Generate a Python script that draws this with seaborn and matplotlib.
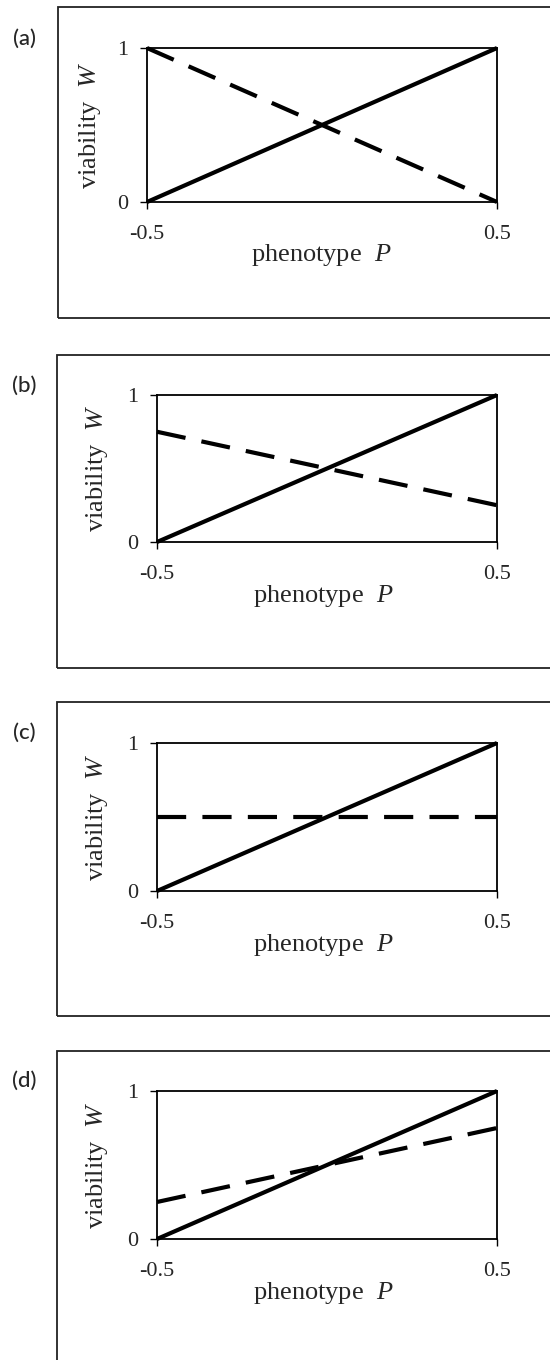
import matplotlib
matplotlib.use("Agg")
import matplotlib.pyplot as plt
from matplotlib.patches import Rectangle
import seaborn as sns
import pandas as pd

# ---- data ----
panel_labels = ["(a)", "(b)", "(c)", "(d)"]
phenotype = [-0.5, 0.5]
solid_W = [0.0, 1.0]
dashed_W_a = [1.0, 0.0]
dashed_W_b = [0.75, 0.25]
dashed_W_c = [0.5, 0.5]
dashed_W_d = [0.25, 0.75]
dashed_all = [dashed_W_a, dashed_W_b, dashed_W_c, dashed_W_d]
x_ticks = [-0.5, 0.5]
x_ticklabels = ["-0.5", "0.5"]
y_ticks = [0, 1]
y_ticklabels = ["0", "1"]
xlabel = "phenotype  $P$"
ylabel = "viability  $W$"

sns.set_style("white")
plt.rcParams["font.family"] = ["Liberation Serif", "DejaVu Serif"]
plt.rcParams["mathtext.fontset"] = "custom"
plt.rcParams["mathtext.rm"] = "Liberation Serif"
plt.rcParams["mathtext.it"] = "Liberation Serif:italic"

W, H = 550, 1360
fig = plt.figure(figsize=(W / 100, H / 100), dpi=100)
fig.patch.set_facecolor("white")

# layout in pixels: axes (left, right, top, bottom), box (left, top, bottom), label center (x, y)
axes_px = [(147, 497, 48, 202), (157, 497, 395, 542), (157, 497, 743, 891), (157, 497, 1091, 1239)]
box_px = [(58, 7, 318), (57, 355, 668), (57, 702, 1016), (57, 1051, 1420)]
lab_px = [(25, 39), (24, 386), (24, 733), (24, 1081)]
xlab_coords = [(0.497, -0.26), (0.49, -0.279), (0.49, -0.277), (0.49, -0.277)]
ylab_x_px = [103, 110, 110, 110]

for i in range(4):
    l, r, t, b = axes_px[i]
    bl, bt, bb = box_px[i]
    fig.add_artist(Rectangle((bl / W, 1 - bb / H), (W + 20 - bl) / W, (bb - bt) / H,
                             transform=fig.transFigure, fill=False, lw=1.3,
                             ec="#222222"))
    fig.text(lab_px[i][0] / W, 1 - lab_px[i][1] / H, panel_labels[i],
             family=["Lato", "DejaVu Sans"], fontsize=16, fontweight="medium",
             ha="center", va="center")

    ax = fig.add_axes([l / W, 1 - b / H, (r - l) / W, (b - t) / H])
    df = pd.DataFrame({"P": phenotype, "solid": solid_W, "dashed": dashed_all[i]})
    sns.lineplot(data=df, x="P", y="solid", ax=ax, color="black", lw=3.0,
                 errorbar=None, clip_on=False, solid_capstyle="butt")
    sns.lineplot(data=df, x="P", y="dashed", ax=ax, color="black", lw=3.0,
                 errorbar=None, clip_on=False, linestyle=(0, (7.0, 3.9)),
                 dash_capstyle="butt")
    ax.set_xlim(-0.5, 0.5)
    ax.set_ylim(0, 1)
    ax.set_xticks(x_ticks)
    ax.set_xticklabels(x_ticklabels)
    ax.set_yticks(y_ticks)
    ax.set_yticklabels(y_ticklabels)
    ax.tick_params(axis="x", direction="out", length=5, width=1, pad=11.5,
                   labelsize=16, bottom=True, color="black")
    ax.tick_params(axis="y", direction="out", length=5, width=1, pad=8.6,
                   labelsize=16, left=True, color="black")
    for s in ax.spines.values():
        s.set_visible(True)
        s.set_color("black")
        s.set_linewidth(1.3)
    ax.set_xlabel(xlabel, fontsize=19)
    ax.set_ylabel(ylabel, fontsize=19)
    ax.xaxis.set_label_coords(*xlab_coords[i])
    ax.yaxis.set_label_coords((ylab_x_px[i] - l) / (r - l), 0.5)
    ax.set_facecolor("white")

fig.savefig("out.png", dpi=100, facecolor="white")
